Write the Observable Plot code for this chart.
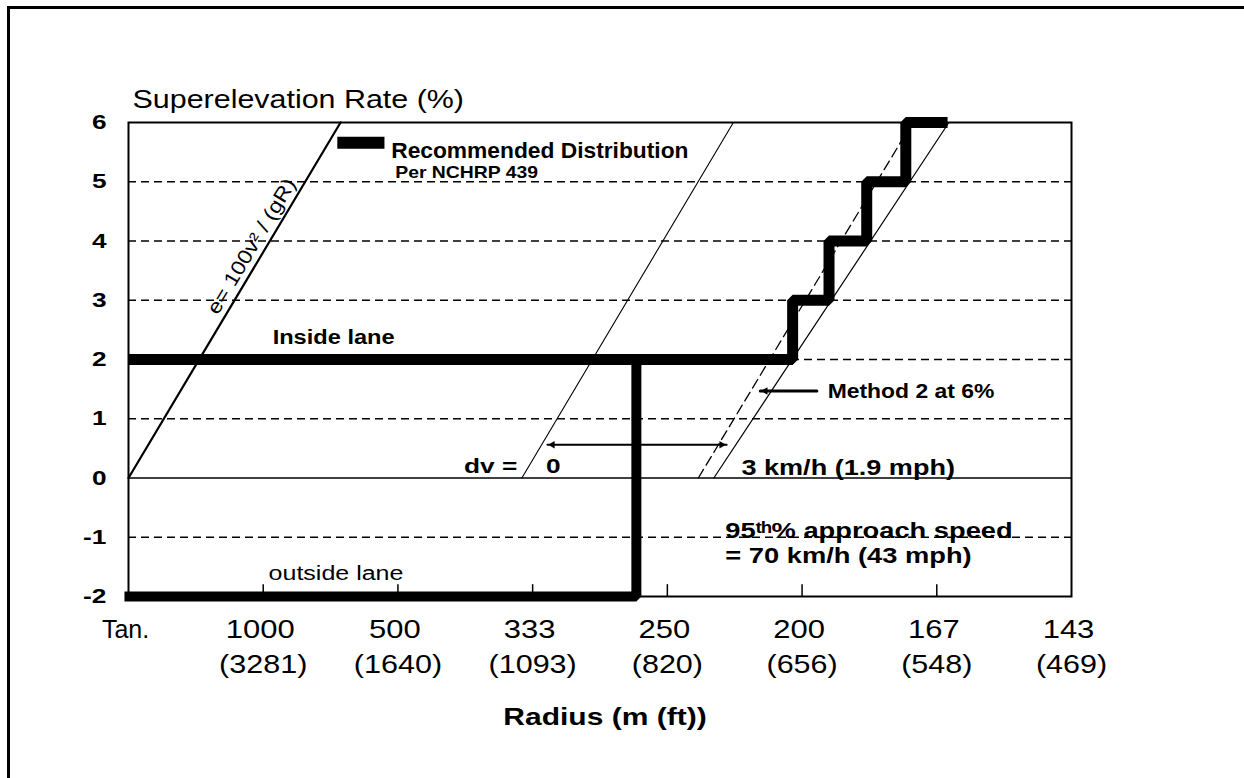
<!DOCTYPE html>
<html><head><meta charset="utf-8">
<script src="https://cdn.jsdelivr.net/npm/d3@7"></script>
<script src="https://cdn.jsdelivr.net/npm/@observablehq/plot@0.6"></script>
<style>
html,body{margin:0;padding:0;background:#fff;overflow:hidden;}
#chart{position:absolute;left:0;top:0;}
#topline{position:absolute;left:7px;top:6px;width:1300px;height:3px;background:#000;}
#leftline{position:absolute;left:7px;top:6px;width:3px;height:800px;background:#000;}
</style></head><body>
<div id="chart"></div><div id="topline"></div><div id="leftline"></div>
<script>
// ---- data (x = curvature 1000/R, y = superelevation %) ----
const curvature = [0, 1, 2, 3, 4, 5, 6, 7];
const radiusM = ["Tan.", "1000", "500", "333", "250", "200", "167", "143"];
const radiusFt = ["", "(3281)", "(1640)", "(1093)", "(820)", "(656)", "(548)", "(469)"];
const rateTicks = [-2, -1, 0, 1, 2, 3, 4, 5, 6];
const gridRates = [-1, 1, 2, 3, 4, 5];
const insideLane = [[0,2],[4.93,2],[4.93,3],[5.20,3],[5.20,4],[5.48,4],[5.48,5],[5.77,5],[5.77,6],[6.08,6]];
const outsideLane = [[-0.03,-2],[3.77,-2],[3.77,2]];
const eLine = [[0,0],[1.574,6]];
const dvZeroLine = [[2.92,0],[4.49,6]];
const method2Dashed = [[4.23,0],[5.82,6]];
const method2Solid = [[4.345,0],[6.09,6]];
const dvArrow = [[3.11,0.56],[4.44,0.56]];
const method2Leader = [[5.11,1.47],[4.69,1.47]];
const legendKey = [[1.55,5.66],[1.90,5.66]];

const titleText = "Superelevation Rate (%)";
const xLabelText = "Radius (m (ft))";
const legendTexts = [{t:"Recommended Distribution", k:1.95, e:5.40}];
const legendSub = [{t:"Per NCHRP 439", k:1.98, e:5.06}];
const insideLabel = [{t:"Inside lane", k:1.07, e:2.26}];
const outsideLabel = [{t:"outside lane", k:1.04, e:-1.72}];
const dvLabels = [{t:"dv =", k:2.49, e:0.08}, {t:"0", k:3.10, e:0.08}];
const kmhLabel = [{t:"3 km/h (1.9 mph)", k:4.55, e:0.05}];
const methodLabel = [{t:"Method 2 at 6%", k:5.19, e:1.35}];
const speedLabels = [{t:"95ᵗʰ% approach speed", k:4.43, e:-1.01}, {t:"= 70 km/h (43 mph)", k:4.43, e:-1.43}];
const eFormula = [{t:"e= 100v² / (gR)", k:0.98, e:3.82}];

const X = d => d[0], Y = d => d[1];
const FONT = "'Liberation Sans', Arial, Helvetica, sans-serif";
const startText = {textAnchor: "start", lineAnchor: "bottom", x: "k", y: "e", text: "t"};

const chart = Plot.plot({
  width: 1244, height: 778,
  marginLeft: 128, marginRight: 173, marginTop: 122, marginBottom: 182,
  style: {fontFamily: FONT, background: "transparent", color: "#000"},
  x: {domain: [0, 7], axis: null},
  y: {domain: [-2, 6], axis: null},
  marks: [
    Plot.ruleY(gridRates, {stroke: "#000", strokeWidth: 1.4, strokeDasharray: "8,5"}),
    Plot.ruleY([0], {stroke: "#000", strokeWidth: 1.6}),
    Plot.frame({stroke: "#000", strokeWidth: 2}),
    Plot.ruleX(curvature.slice(1, 7), {x: d => d, y1: -2, y2: -1.8, stroke: "#000", strokeWidth: 1.5}),
    Plot.line(eLine, {x: X, y: Y, stroke: "#000", strokeWidth: 2.2}),
    Plot.line(dvZeroLine, {x: X, y: Y, stroke: "#000", strokeWidth: 1.1}),
    Plot.line(method2Dashed, {x: X, y: Y, stroke: "#000", strokeWidth: 1.3, strokeDasharray: "10,5"}),
    Plot.line(method2Solid, {x: X, y: Y, stroke: "#000", strokeWidth: 1.2}),
    Plot.line(dvArrow, {x: X, y: Y, stroke: "#000", strokeWidth: 2}),
    Plot.dot([dvArrow[0]], {x: X, y: Y, symbol: "triangle2", rotate: -90, r: 3.6, dx: 5, fill: "#000"}),
    Plot.dot([dvArrow[1]], {x: X, y: Y, symbol: "triangle2", rotate: 90, r: 3.6, dx: -5, fill: "#000"}),
    Plot.line(method2Leader, {x: X, y: Y, stroke: "#000", strokeWidth: 3}),
    Plot.dot([method2Leader[1]], {x: X, y: Y, symbol: "triangle2", rotate: -90, r: 3.6, dx: 5, fill: "#000"}),
    Plot.line(outsideLane, {x: X, y: Y, stroke: "#000", strokeWidth: 10, strokeLinejoin: "miter", strokeLinecap: "butt"}),
    Plot.line(insideLane, {x: X, y: Y, stroke: "#000", strokeWidth: 11, strokeLinejoin: "miter", strokeLinecap: "butt"}),
    Plot.line(legendKey, {x: X, y: Y, stroke: "#000", strokeWidth: 12, strokeLinecap: "butt"}),
    // y axis
    Plot.axisY(rateTicks, {tickSize: 0, tickPadding: 22, fontSize: 21, fontWeight: "bold", tickFormat: d => String(d), label: null}),
    // x tick labels (two rows)
    Plot.text(curvature, {x: d => d, frameAnchor: "bottom", dy: 41, dx: -3, text: (d, i) => radiusM[i], fontSize: 25, lineAnchor: "bottom"}),
    Plot.text(curvature, {x: d => d, frameAnchor: "bottom", dy: 76, text: (d, i) => radiusFt[i], fontSize: 25, lineAnchor: "bottom"}),
    Plot.text([xLabelText], {frameAnchor: "bottom", dx: 5, dy: 128, text: d => d, fontSize: 24, fontWeight: "bold", lineAnchor: "bottom"}),
    Plot.text([titleText], {x: 0.03, y: 6.25, text: d => d, fontSize: 26, textAnchor: "start", lineAnchor: "bottom"}),
    Plot.text(legendTexts, {...startText, fontSize: 22, fontWeight: "bold"}),
    Plot.text(legendSub, {...startText, fontSize: 17, fontWeight: "bold"}),
    Plot.text(insideLabel, {...startText, fontSize: 20, fontWeight: "bold"}),
    Plot.text(outsideLabel, {...startText, fontSize: 20}),
    Plot.text(dvLabels, {...startText, fontSize: 21, fontWeight: "bold"}),
    Plot.text(kmhLabel, {...startText, fontSize: 22, fontWeight: "bold"}),
    Plot.text(methodLabel, {...startText, fontSize: 21, fontWeight: "bold"}),
    Plot.text(speedLabels, {...startText, fontSize: 22, fontWeight: "bold"}),
    Plot.text(eFormula, {x: "k", y: "e", text: "t", fontSize: 20, rotate: -59.2, dx: -3.4, dy: -2, textAnchor: "middle", lineAnchor: "bottom"})
  ]
});
document.getElementById("chart").append(chart);

// horizontal stretch of the scanned lettering, per group of strings
const stretchGroups = [
  [[titleText], 1.17],
  [rateTicks.map(String), 1.25],
  [radiusM.slice(1), 1.24],
  [radiusFt.slice(1), 1.22],
  [[xLabelText], 1.25],
  [legendTexts.map(d => d.t), 1.035],
  [legendSub.map(d => d.t), 1.14],
  [insideLabel.map(d => d.t), 1.18],
  [outsideLabel.map(d => d.t), 1.25],
  [dvLabels.map(d => d.t), 1.25],
  [kmhLabel.map(d => d.t), 1.23],
  [methodLabel.map(d => d.t), 1.09],
  [speedLabels.map(d => d.t), 1.24],
  [eFormula.map(d => d.t), 1.15]
];
const factorOf = new Map();
for (const [strings, f] of stretchGroups) for (const s of strings) factorOf.set(s, f);
chart.querySelectorAll("text").forEach(t => {
  const f = factorOf.get(t.textContent);
  if (!f) return;
  const w = t.getComputedTextLength();
  if (w > 0) {
    t.setAttribute("textLength", (w * f).toFixed(1));
    t.setAttribute("lengthAdjust", "spacingAndGlyphs");
  }
});
</script>
</body></html>
